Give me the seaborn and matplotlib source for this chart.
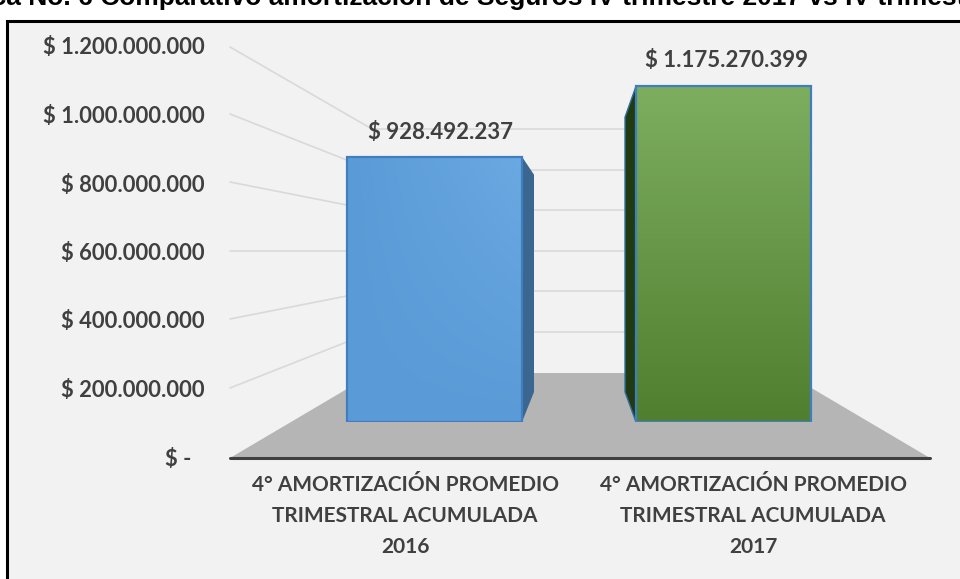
import numpy as np
import matplotlib
matplotlib.use('Agg')
import matplotlib.pyplot as plt
import pandas as pd
import seaborn as sns
from matplotlib.colors import to_rgb
from matplotlib.patches import Polygon
from matplotlib.transforms import IdentityTransform

# values
categories = ['4° AMORTIZACIÓN PROMEDIO\nTRIMESTRAL ACUMULADA\n2016',
              '4° AMORTIZACIÓN PROMEDIO\nTRIMESTRAL ACUMULADA\n2017']
values = [928492237, 1175270399]
value_labels = ['$ 928.492.237', '$ 1.175.270.399']
tick_values = [0, 200000000, 400000000, 600000000, 800000000, 1000000000, 1200000000]
tick_labels = ['$ -', '$ 200.000.000', '$ 400.000.000', '$ 600.000.000',
               '$ 800.000.000', '$ 1.000.000.000', '$ 1.200.000.000']
title = 'Gráfica No. 6 Comparativo amortización de Seguros IV trimestre 2017 vs IV trimestre 2016'

W, H = 960, 579
BG = '#f2f2f2'
TXT = '#404040'
sns.set_theme(style='white')
plt.rcParams['font.family'] = ['Lato', 'DejaVu Sans']

fig = plt.figure(figsize=(W / 100, H / 100), dpi=100, facecolor='white')


def px_axes(left, top, right, bottom, **kw):
    return fig.add_axes([left / W, 1 - bottom / H, (right - left) / W, (bottom - top) / H], **kw)


def px(points):
    # image pixels (y down) to display coords
    return [(x, H - y) for x, y in points]


# panel behind everything
fig.patches.append(plt.Rectangle((7 / W, -0.01), 1, 1 - 20.5 / H + 0.01, transform=fig.transFigure,
                                 facecolor=BG, edgecolor='black', linewidth=2.2, zorder=-1))
fig.text(-70 / W, 1 - 5 / H, title, ha='left', va='baseline', fontsize=19, fontweight='bold',
         family='Liberation Sans', color='black')

# axis with tick labels, on the slanted left edge of the 3D chart
tick_ax = px_axes(230, 46, 930, 457)
tick_ax.set_facecolor('none')
tick_ax.set_ylim(0, 1200000000)
tick_ax.set_xlim(230, 930)
tick_ax.set_xticks([])
tick_ax.set_yticks(tick_values)
tick_ax.set_yticklabels(tick_labels, fontsize=15.8, fontweight='bold', color=TXT)
tick_ax.get_yticklabels()[0].set_x(-0.019)
tick_ax.tick_params(axis='y', length=0, pad=18)
for s in tick_ax.spines.values():
    s.set_visible(False)

# floor and gridlines of the back wall
floor = Polygon(px([(230, 458), (374, 373), (786, 373), (930, 458)]), closed=True,
                transform=IdentityTransform(), facecolor='#b5b5b5', edgecolor='none', zorder=1)
tick_ax.add_patch(floor)
back_y = [373, 332, 291, 251, 210, 170, 129]
front_y = [458, 388, 319, 251, 182, 114, 47]
for fy, by in list(zip(front_y, back_y))[1:]:
    tick_ax.plot([230, 372, 790], [H - fy, H - by, H - by], transform=IdentityTransform(),
                 color='#d9d9d9', lw=1.2, zorder=1, clip_on=False)
tick_ax.plot([230, 930], [H - 458, H - 458], transform=IdentityTransform(),
             color='#404040', lw=2.2, zorder=3, clip_on=False, solid_capstyle='round')

# front plane of the bars: 0 at y=422, 0.2857 px per million
px_per_val = 0.2857e-6
bar_ax = px_axes(145, 422 - 1300000000 * px_per_val, 1013, 422)
bar_ax.set_facecolor('none')
df = pd.DataFrame({'categoria': categories, 'valor': values})
sns.barplot(data=df, x='categoria', y='valor', hue='categoria', legend=False, width=0.6055,
            palette=['#5b9bd5', '#6fa04f'], saturation=1, ax=bar_ax, zorder=4)
bar_ax.set_xticks([])
bar_ax.set_xlabel('')
bar_ax.set_ylabel('')
bar_ax.set_yticks([])
for s in bar_ax.spines.values():
    s.set_visible(False)

# gradient fill clipped to each bar: (top-left, top-right, bottom)
grads = [('#5a9ad6', '#6aa9e2', '#5a9ad6'), ('#7dad5e', '#7dad5e', '#4f7f2f')]
label_gap = [84000000, 90000000]
label_shift = [0.02, 0.012]
yy, xx = np.mgrid[0:1:64j, 0:1:64j]
for bar, g, lab, gap, sh in zip(bar_ax.patches, grads, value_labels, label_gap, label_shift):
    x0, x1 = bar.get_x(), bar.get_x() + bar.get_width()
    v = bar.get_height()
    tl, tr, bt = [np.array(to_rgb(c)) for c in g]
    img = ((tl * (1 - xx[..., None]) + tr * xx[..., None]) * (1 - yy[..., None])
           + bt * yy[..., None])
    im = bar_ax.imshow(img, extent=(x0, x1, 0, v), origin='upper', aspect='auto', zorder=4.5)
    im.set_clip_path(bar)
    bar.set_edgecolor('#3f7fbf')
    bar.set_linewidth(1.6)
    bar.set_facecolor('none')
    bar.set_zorder(5)
    bar_ax.text((x0 + x1) / 2 + sh, v + gap, lab, ha='center', va='center',
                fontsize=16, fontweight='bold', color=TXT, zorder=6)
# centres 434.5 and 723.5 px, one category step is 289 px
bar_ax.set_xlim(0 - (434.5 - 145) / 289, 1 + (1013 - 723.5) / 289)
bar_ax.set_ylim(0, 1300000000)

# side faces, drawn from the bar rectangles in display coords
fig.canvas.draw()
b1, b2 = bar_ax.patches[0].get_window_extent(), bar_ax.patches[1].get_window_extent()
bar_ax.add_patch(Polygon([(b1.x1, b1.y1), (b1.x1 + 12, b1.y1 - 18), (b1.x1 + 12, b1.y0 + 30), (b1.x1, b1.y0)],
                         closed=True, transform=IdentityTransform(), facecolor='#3a6690',
                         edgecolor='none', zorder=3.5))
bar_ax.add_patch(Polygon([(b2.x0, b2.y1), (b2.x0 - 11, b2.y1 - 31), (b2.x0 - 11, b2.y0 + 30), (b2.x0, b2.y0)],
                         closed=True, transform=IdentityTransform(), facecolor='#223a12',
                         edgecolor='#2f6f9f', linewidth=1, zorder=3.5))

# category labels under the baseline
for cat, xc in zip(categories, [405, 753]):
    fig.text(xc / W, 1 - 516 / H, cat, ha='center', va='center', fontsize=15, fontweight='bold',
             color=TXT, linespacing=1.68)

fig.savefig('out.png', dpi=100, facecolor=fig.get_facecolor())
